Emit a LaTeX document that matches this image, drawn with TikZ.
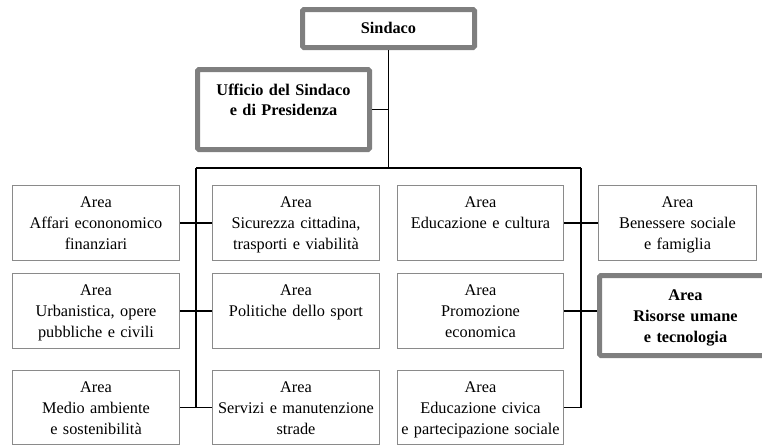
\documentclass[tikz,border=0pt]{standalone}
\usepackage{fontspec}
\setmainfont{Liberation Serif}
\definecolor{thingray}{HTML}{8A8A8A}
\definecolor{thickgray}{HTML}{7F7F7F}
\begin{document}
\begin{tikzpicture}[x=1pt,y=-1pt,
  thinbox/.style={draw=thingray, line width=1.4pt, inner sep=0pt, minimum width=167pt, minimum height=75pt},
  thickbox/.style={draw=thickgray, line width=5pt, rounded corners=1.5pt, inner sep=0pt, minimum width=172pt},
  lbl/.style={anchor=base, align=center, text width=170pt, inner sep=0pt, font=\fontsize{16.3}{21}\selectfont},
  conn/.style={line width=1.8pt, black}]
\useasboundingbox (0,0) rectangle (762,445);
% top boxes
\node[thickbox, minimum height=38pt] (sin) at (388.5,28.5) {};
\node[thickbox, minimum height=80pt] (uff) at (283.5,109.5) {};
\node[lbl, font=\fontsize{16.3}{20}\selectfont\bfseries] at ([yshift=-26pt]sin.north) {Sindaco};
\node[lbl, font=\fontsize{16.3}{20}\selectfont\bfseries] at ([yshift=-28pt]uff.north) {Ufficio del Sindaco\\e di Presidenza};
% row 1
\node[thinbox] (b11) at (96,223) {};
\node[thinbox] (b12) at (296,223) {};
\node[thinbox, minimum width=166pt] (b13) at (480.5,223) {};
\node[thinbox, minimum width=158pt] (b14) at (677.5,223) {};
% row 2
\node[thinbox] (b21) at (96,311) {};
\node[thinbox] (b22) at (296,311) {};
\node[thinbox, minimum width=166pt] (b23) at (480.5,311) {};
\node[thickbox, minimum height=80pt] (ris) at (685.5,315.5) {};
% row 3
\node[thinbox, minimum height=74pt] (b31) at (96,407.5) {};
\node[thinbox, minimum height=74pt] (b32) at (296,407.5) {};
\node[thinbox, minimum height=74pt, minimum width=166pt] (b33) at (480.5,407.5) {};
% labels
\node[lbl] at ([yshift=-22.5pt]b11.north) {Area\\Affari econonomico\\finanziari};
\node[lbl] at ([yshift=-22.5pt]b12.north) {Area\\Sicurezza cittadina,\\trasporti e viabilità};
\node[lbl] at ([yshift=-22.5pt]b13.north) {Area\\Educazione e cultura};
\node[lbl] at ([yshift=-22.5pt]b14.north) {Area\\Benessere sociale\\e famiglia};
\node[lbl] at ([yshift=-22.5pt]b21.north) {Area\\Urbanistica, opere\\pubbliche e civili};
\node[lbl] at ([yshift=-22.5pt]b22.north) {Area\\Politiche dello sport};
\node[lbl] at ([yshift=-22.5pt]b23.north) {Area\\Promozione\\economica};
\node[lbl, font=\fontsize{16.3}{21}\selectfont\bfseries] at ([yshift=-27pt]ris.north) {Area\\Risorse umane\\e tecnologia};
\node[lbl] at ([yshift=-22.5pt]b31.north) {Area\\Medio ambiente\\e sostenibilità};
\node[lbl] at ([yshift=-22.5pt]b32.north) {Area\\Servizi e manutenzione\\strade};
\node[lbl] at ([yshift=-22.5pt]b33.north) {Area\\Educazione civica\\e partecipazione sociale};
% connectors
\coordinate (jl) at (196,168);
\coordinate (jr) at (581,168);
\draw[conn] (sin.south) -- (sin.south |- jl);
\draw[conn] (uff.east) -- (uff.east -| sin.south);
\draw[conn] (jl) -- (jr);
\draw[conn] (jl) -- (jl |- b31.east);
\draw[conn] (jr) -- (jr |- b33.east);
\draw[conn] (b11.east) -- (b12.west);
\draw[conn] (b21.east) -- (b22.west);
\draw[conn] (b31.east) -- (b32.west);
\draw[conn] (b13.east) -- (b14.west);
\draw[conn] (b23.east) -- (ris.west |- b23.east);
\draw[conn] (b33.east) -- (jr |- b33.east);
\end{tikzpicture}
\end{document}
